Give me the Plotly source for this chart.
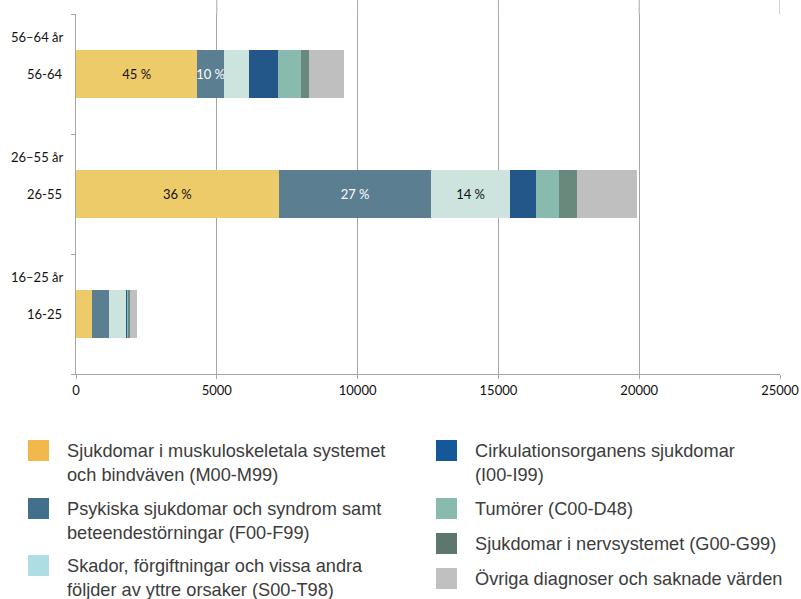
import plotly.graph_objects as go

# ---------------------------------------------------------------
# data
# ---------------------------------------------------------------
age_groups = ["16-25", "26-55", "56-64"]
age_titles = ["16–25 år", "26–55 år", "56–64 år"]

diagnoses = [
    "Sjukdomar i muskuloskeletala systemet och bindväven (M00-M99)",
    "Psykiska sjukdomar och syndrom samt beteendestörningar (F00-F99)",
    "Skador, förgiftningar och vissa andra följder av yttre orsaker (S00-T98)",
    "Cirkulationsorganens sjukdomar (I00-I99)",
    "Tumörer (C00-D48)",
    "Sjukdomar i nervsystemet (G00-G99)",
    "Övriga diagnoser och saknade värden",
]
legend_text = [
    "Sjukdomar i muskuloskeletala systemet<br>och bindväven (M00-M99)",
    "Psykiska sjukdomar och syndrom samt<br>beteendestörningar (F00-F99)",
    "Skador, förgiftningar och vissa andra<br>följder av yttre orsaker (S00-T98)",
    "Cirkulationsorganens sjukdomar<br>(I00-I99)",
    "Tumörer (C00-D48)",
    "Sjukdomar i nervsystemet (G00-G99)",
    "Övriga diagnoser och saknade värden",
]

# antal per åldersgrupp (16-25, 26-55, 56-64)
muskulo = [570, 7196, 4311]
psykiska = [617, 5426, 937]
skador = [600, 2779, 902]
cirkulation = [45, 926, 1022]
tumorer = [40, 808, 819]
nerv = [45, 653, 296]
ovriga = [250, 2137, 1225]
series = [muskulo, psykiska, skador, cirkulation, tumorer, nerv, ovriga]

# procentetiketter i staplarna
pct_labels = [
    ["", "36 %", "45 %"],
    ["", "27 %", "10 %"],
    ["", "14 %", ""],
    ["", "", ""],
    ["", "", ""],
    ["", "", ""],
    ["", "", ""],
]

x_ticks = [0, 5000, 10000, 15000, 20000, 25000]

# ---------------------------------------------------------------
# stil
# ---------------------------------------------------------------
bar_colors = ["#EECB69", "#5B7E91", "#CCE3DE", "#23578A", "#88BBAD", "#68897C", "#BFBFBF"]
legend_colors = ["#F2B84B", "#416F8C", "#AEDDE3", "#14589A", "#88BBAE", "#5D776C", "#C0C0C0"]
label_colors = ["#111111", "#FFFFFF", "#111111", "#FFFFFF", "#111111", "#FFFFFF", "#111111"]
GRID = "#A6A6A6"
TICK_FONT = "Lato, Liberation Sans, sans-serif"
LEGEND_FONT = "Liberation Sans, Arial, sans-serif"

W, H = 801, 599
L, R, T, B = 76, 21, 14, 225
PW, PH = W - L - R, H - T - B


def px(x):
    return (x - L) / PW


def py(y):
    return (H - B - y) / PH


fig = go.Figure()
for name, vals, col, txt, tcol in zip(diagnoses, series, bar_colors, pct_labels, label_colors):
    fig.add_trace(go.Bar(
        y=age_groups, x=vals, orientation="h", name=name,
        marker=dict(color=col, line=dict(width=0)),
        text=txt, textposition="inside", insidetextanchor="middle",
        textangle=0, constraintext="none", cliponaxis=False,
        textfont=dict(family=TICK_FONT, size=13, color=tcol),
        showlegend=False,
    ))

# åldersrubriker ovanför varje stapel + kategorinamn
annotations = []
for grp, title in zip(age_groups, age_titles):
    annotations.append(dict(xref="paper", yref="y", x=px(64), y=grp, text=grp,
                            xanchor="right", yanchor="middle", showarrow=False,
                            font=dict(family=TICK_FONT, size=13, color="#111111")))
    annotations.append(dict(xref="paper", yref="y", x=px(65), y=grp, yshift=37, text=title,
                            xanchor="right", yanchor="middle", showarrow=False,
                            font=dict(family=TICK_FONT, size=13, color="#111111")))

# förklaring (egen layout, två kolumner)
shapes = []
legend_pos = [
    (28, 440), (28, 498), (28, 555),
    (436, 440), (436, 498), (436, 533), (436, 568),
]
for (lx, ly), col, txt in zip(legend_pos, legend_colors, legend_text):
    shapes.append(dict(type="rect", xref="paper", yref="paper",
                       x0=px(lx), x1=px(lx + 21), y0=py(ly + 21), y1=py(ly),
                       fillcolor=col, line=dict(width=0)))
    annotations.append(dict(xref="paper", yref="paper", x=px(lx + 37), y=py(ly - 1),
                            text=txt, align="left", xanchor="left", yanchor="top",
                            showarrow=False,
                            font=dict(family=LEGEND_FONT, size=18.2, color="#3C3C3C")))

# rutnätslinjerna går upp till bildkanten
for xv in x_ticks[1:]:
    shapes.append(dict(type="line", xref="x", yref="paper", x0=xv, x1=xv,
                       y0=1, y1=1 + T / PH, line=dict(color=GRID, width=1)))

fig.update_layout(
    width=W, height=H,
    margin=dict(l=L, r=R, t=T, b=B, autoexpand=False),
    barmode="stack", bargap=0.6,
    plot_bgcolor="white", paper_bgcolor="white",
    annotations=annotations, shapes=shapes,
    xaxis=dict(range=[0, 25000], tickvals=x_ticks, tickformat="d", showgrid=True,
               gridcolor=GRID, gridwidth=1, zeroline=False, showline=True, linecolor=GRID,
               ticks="outside", ticklen=4, tickcolor=GRID, automargin=False,
               tickfont=dict(family=TICK_FONT, size=13, color="#111111")),
    yaxis=dict(categoryorder="array", categoryarray=age_groups, range=[-0.5, 2.5],
               showticklabels=False, tickson="boundaries", ticks="outside",
               ticklen=4, tickcolor=GRID, showgrid=False, zeroline=False,
               showline=True, linecolor=GRID, automargin=False),
)

fig.write_html("out.html", config={"displayModeBar": False},
               post_script="document.body.style.margin='0';")
